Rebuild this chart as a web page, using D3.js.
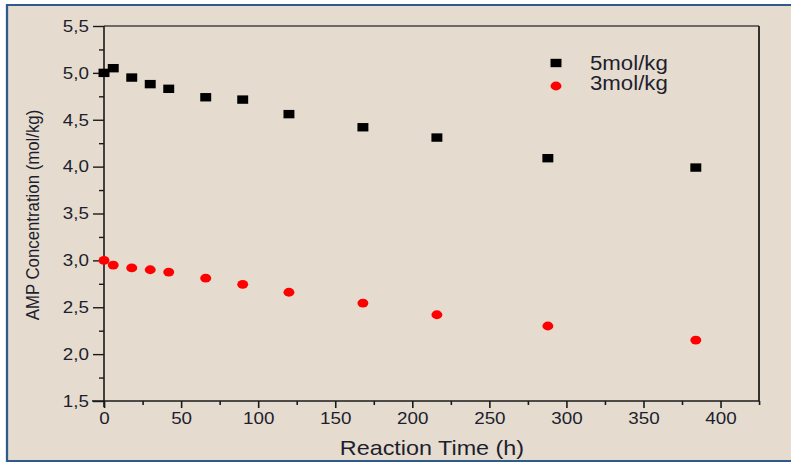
<!DOCTYPE html>
<html>
<head>
<meta charset="utf-8">
<script src="https://cdn.jsdelivr.net/npm/d3@7"></script>
<style>
  html, body { margin: 0; padding: 0; background: #fff; }
  svg { display: block; font-family: "Liberation Sans", Arial, sans-serif; }
</style>
</head>
<body>
<svg id="chart" width="791" height="463"></svg>
<script>
// Reaction times (h) shared by both series
const times = [0, 6, 18, 30, 42, 66, 90, 120, 168, 216, 288, 384];
// AMP concentration (mol/kg)
const conc5 = [5.0, 5.05, 4.95, 4.88, 4.83, 4.74, 4.715, 4.56, 4.42, 4.31, 4.09, 3.99];
const conc3 = [3.0, 2.95, 2.92, 2.90, 2.875, 2.81, 2.745, 2.66, 2.545, 2.42, 2.30, 2.15];
const seriesNames = ['5mol/kg', '3mol/kg'];
const xTicks = [0, 50, 100, 150, 200, 250, 300, 350, 400];
const yTicks = [1.5, 2.0, 2.5, 3.0, 3.5, 4.0, 4.5, 5.0, 5.5];

// The original picture is stretched sideways a bit, so the whole svg is too
const k = 1.14;
const W = 791, H = 463;
const sx = (px) => px / k; // screen px -> viewBox units

const svg = d3.select('#chart')
  .attr('viewBox', `0 0 ${W / k} ${H}`)
  .attr('preserveAspectRatio', 'none');

const textColor = '#1e1e2e';

// panel background with blue border (right edge runs off the picture)
svg.append('rect')
  .attr('x', sx(7)).attr('y', 5)
  .attr('width', sx(W + 20)).attr('height', 456)
  .attr('fill', '#e5dccf')
  .attr('stroke', '#2f5a8c')
  .attr('stroke-width', 2);

const x = d3.scaleLinear().domain([0, 425]).range([sx(104), sx(759)]);
const y = d3.scaleLinear().domain([1.5, 5.5]).range([401, 26]);

// frame: top and right
svg.append('line')
  .attr('x1', x(0)).attr('x2', x(425)).attr('y1', y(5.5)).attr('y2', y(5.5))
  .attr('stroke', '#444').attr('stroke-width', 1.6);
svg.append('line')
  .attr('x1', x(425)).attr('x2', x(425)).attr('y1', y(5.5)).attr('y2', y(1.5))
  .attr('stroke', '#222').attr('stroke-width', 1.6);

// x axis: minor ticks then major ticks with labels
const gx = svg.append('g').attr('transform', `translate(0,${y(1.5)})`);
gx.append('g')
  .call(d3.axisBottom(x).tickValues(d3.range(25, 426, 50)).tickSize(4).tickFormat(''))
  .call((g) => g.select('.domain').remove());
gx.append('g')
  .call(d3.axisBottom(x).tickValues(xTicks).tickSize(7).tickSizeOuter(0).tickPadding(4))
  .call((g) => g.select('.domain').attr('d', `M${sx(92)},0H${x(425)}`));

// y axis
const gy = svg.append('g').attr('transform', `translate(${x(0)},0)`);
gy.append('g')
  .call(d3.axisLeft(y).tickValues(d3.range(1.75, 5.5, 0.5)).tickSize(sx(5)).tickFormat(''))
  .call((g) => g.select('.domain').remove());
gy.append('g')
  .call(d3.axisLeft(y).tickValues(yTicks).tickSize(sx(11)).tickSizeOuter(0).tickPadding(sx(4))
    .tickFormat((d) => d3.format('.1f')(d).replace('.', ',')))
  .call((g) => g.select('.domain').attr('d', `M0,${y(5.5)}V${y(1.5) + 6}`));

svg.selectAll('.tick line, .domain').attr('stroke', '#1a1a1a').attr('stroke-width', 1.4);
svg.selectAll('.tick text')
  .attr('font-size', 16.5)
  .attr('fill', textColor)
  .attr('font-family', '"Liberation Sans", Arial, sans-serif');

// axis titles
svg.append('text')
  .attr('x', sx(432)).attr('y', 455)
  .attr('text-anchor', 'middle')
  .attr('font-size', 20.5)
  .attr('fill', textColor)
  .text('Reaction Time (h)');

svg.append('text')
  .attr('transform', `translate(${sx(39)},${215}) rotate(-90)`)
  .attr('text-anchor', 'middle')
  .attr('font-size', 16.8)
  .attr('fill', textColor)
  .text('AMP Concentration (mol/kg)');

// points
const data5 = times.map((t, i) => ({t, c: conc5[i]}));
const data3 = times.map((t, i) => ({t, c: conc3[i]}));

svg.append('g')
  .selectAll('rect')
  .data(data5)
  .join('rect')
    .attr('x', (d) => x(d.t) - 4.8)
    .attr('y', (d) => y(d.c) - 4.2)
    .attr('width', 9.6)
    .attr('height', 8.4)
    .attr('fill', '#000');

svg.append('g')
  .selectAll('ellipse')
  .data(data3)
  .join('ellipse')
    .attr('cx', (d) => x(d.t))
    .attr('cy', (d) => y(d.c))
    .attr('rx', 4.8)
    .attr('ry', 4.4)
    .attr('fill', '#ff0000');

// legend
const legend = svg.append('g');
legend.append('rect')
  .attr('x', sx(556) - 4.8).attr('y', 63 - 4.2)
  .attr('width', 9.6).attr('height', 8.4)
  .attr('fill', '#000');
legend.append('ellipse')
  .attr('cx', sx(556)).attr('cy', 86)
  .attr('rx', 4.8).attr('ry', 4.4)
  .attr('fill', '#ff0000');
legend.selectAll('text')
  .data(seriesNames)
  .join('text')
    .attr('x', sx(590))
    .attr('y', (d, i) => 70 + i * 20.5)
    .attr('font-size', 19.5)
    .attr('fill', textColor)
    .text((d) => d);
</script>
</body>
</html>
